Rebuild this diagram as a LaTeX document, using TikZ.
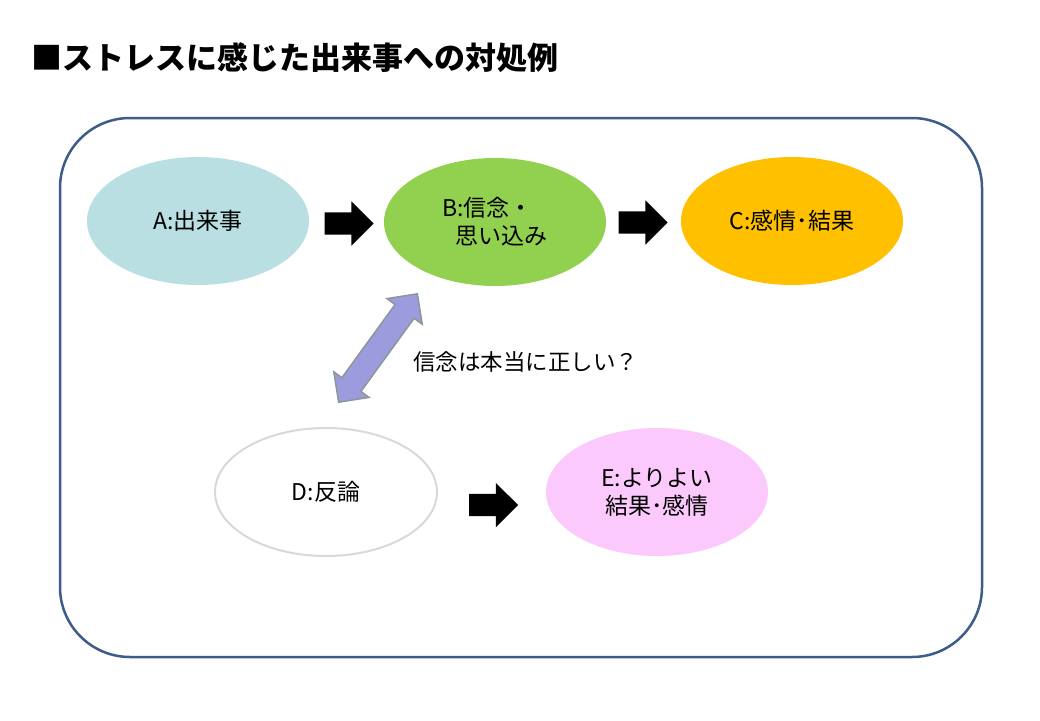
\documentclass[tikz,border=0pt]{standalone}
\usepackage{fontspec}
\setmainfont{Noto Sans CJK JP}
\usetikzlibrary{shapes.geometric,shapes.arrows,calc}
\definecolor{frameblue}{RGB}{62,92,138}
\definecolor{eventcol}{RGB}{185,223,226}
\definecolor{beliefcol}{RGB}{146,208,80}
\definecolor{resultcol}{RGB}{255,192,0}
\definecolor{betterCol}{RGB}{251,201,251}
\definecolor{rebutline}{RGB}{217,217,217}
\definecolor{checkfill}{RGB}{155,155,222}
\definecolor{checkline}{RGB}{140,152,152}
\begin{document}
\begin{tikzpicture}[x=1pt,y=-1pt,
  bubble/.style={ellipse,minimum width=222pt,minimum height=128pt,inner sep=0pt,
    font=\fontsize{23}{28}\selectfont,align=center},
  blockarrow/.style={single arrow,fill=black,minimum height=49pt,inner xsep=0pt,
    inner ysep=11pt,single arrow head extend=11pt}]
\useasboundingbox (0,0) rectangle (1040,720);
\fill [white] (0,0) rectangle (1040,720);
\node [anchor=west,inner sep=0pt,font=\fontsize{31}{37}\selectfont\bfseries] (title) at (31,58) {■ストレスに感じた出来事への対処例};
\draw [frameblue,line width=2.5pt,rounded corners=70pt] (60,118) rectangle (982,657);
% top row
\node [bubble,fill=eventcol] (a) at (198,221) {A:出来事};
\node [bubble,fill=beliefcol,align=left] (b) at (495,222) {B:信念・\\\hspace*{0.6em}思い込み};
\node [bubble,fill=resultcol] (c) at (792,221) {C:感情･結果};
\node [blockarrow] (ab) at ($(a.east)!0.5!(b.west)+(-3,2)$) {};
\node [blockarrow] (bc) at ($(b.east)!0.5!(c.west)+(-6,1)$) {};
% bottom row
\node [bubble,draw=rebutline,line width=2pt,fill=white] (d) at (326,492) {D:反論};
\node [bubble,fill=betterCol] (e) at (657,492) {E:よりよい\\結果･感情};
\node [blockarrow] (de) at ($(d.east)!0.5!(e.west)+(-4,13)$) {};
% check
\node [double arrow,rotate=54,fill=checkfill,draw=checkline,line width=1.5pt,
  minimum height=134pt,inner xsep=0pt,inner ysep=11pt,double arrow head extend=10pt] (bd) at (378,348) {};
\node [anchor=west,inner sep=0pt,font=\fontsize{22.5}{27}\selectfont] (q) at (413,362) {信念は本当に正しい？};
\end{tikzpicture}
\end{document}
